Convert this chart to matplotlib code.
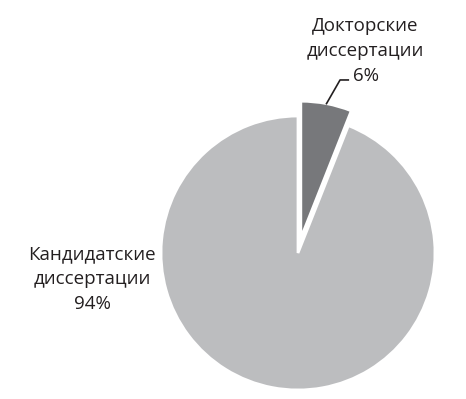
import numpy as np
import matplotlib.pyplot as plt

# data
labels = ["Докторские\nдиссертации", "Кандидатские\nдиссертации"]
shares = [6, 94]
colors = ["#77787b", "#bcbdbf"]
explode = [0.11, 0]

plt.rcParams['font.family'] = ['Open Sans', 'DejaVu Sans']

fig = plt.figure(figsize=(4.66, 3.99), dpi=100)
ax = fig.add_axes([0, 0, 1, 1])

wedges, _ = ax.pie(shares, colors=colors, explode=explode, startangle=90,
                   counterclock=False, radius=1,
                   wedgeprops=dict(edgecolor="white", linewidth=2))

# pixel layout: centre at (298, 253), radius 137 px
ax.set_xlim(-298 / 137, (466 - 298) / 137)
ax.set_ylim(-(399 - 253) / 137, 253 / 137)
ax.set_aspect('auto')
ax.axis('off')

txt = "#231f20"
fs = 13.5

# small slice label with leader line
w = wedges[0]
mid = np.deg2rad((w.theta1 + w.theta2) / 2)
cx, cy = w.center
start = (cx + w.r * np.cos(mid), cy + w.r * np.sin(mid))
elbow = (0.307, 1.263)
ax.plot([start[0], elbow[0], elbow[0] + 0.06], [start[1], elbow[1], elbow[1]],
        color=txt, lw=1.2)
ax.text(0.493, 1.475, f"{labels[0]}\n{shares[0]}%", ha="center", va="center",
        fontsize=fs, color=txt, linespacing=1.5)

# large slice label
ax.text(-1.504, -0.19, f"{labels[1]}\n{shares[1]}%", ha="center", va="center",
        fontsize=fs, color=txt, linespacing=1.5)

fig.savefig("out.png", dpi=100)
